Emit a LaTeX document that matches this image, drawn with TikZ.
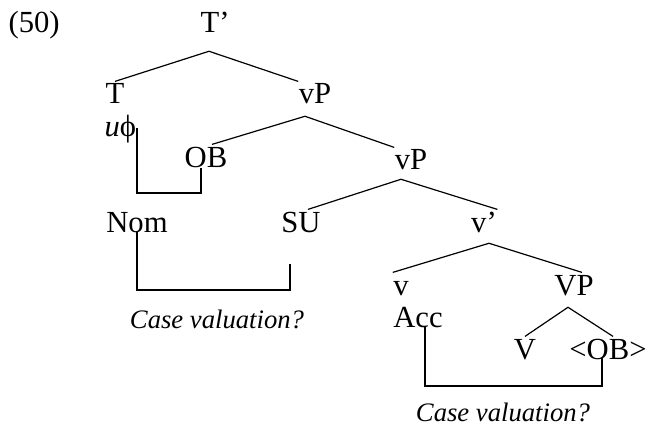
\documentclass[tikz,border=0pt]{standalone}
\usepackage{fontspec}
\setmainfont{Liberation Serif}
\usepackage{tikz}

\begin{document}
\begin{tikzpicture}[x=0.75pt,y=-0.75pt,line width=0.9pt,
		lbl/.style={anchor=base,inner sep=0pt,font=\fontsize{23}{26}\selectfont,text height=16.5pt,text depth=8pt},
		cv/.style={anchor=base,inner sep=0pt,font=\fontsize{20}{24}\selectfont\itshape}]
		\useasboundingbox (0,0) rectangle (647,428);
		\node[lbl,anchor=base west] (ex) at (8,33) {(50)};
		\node[lbl] (Tbar) at (215,33) {T’};
		\node[lbl] (T) at (115,104) {T};
		\node[lbl] (vP1) at (315,104) {vP};
		\node[lbl,anchor=base west] (uphi) at (104,137) {\textit{u}ϕ};
		\node[lbl] (OB) at (206,167) {OB};
		\node[lbl] (vP2) at (411,170) {vP};
		\node[lbl] (Nom) at (137,232) {Nom};
		\node[lbl] (SU) at (301,232) {SU};
		\node[lbl] (vbar) at (484,232) {v’};
		\node[lbl] (v) at (401,295) {v};
		\node[lbl] (VP) at (574,295) {VP};
		\node[lbl] (Acc) at (418,327) {Acc};
		\node[lbl] (V) at (525,359) {V};
		\node[lbl] (OBt) at (608,359) {<OB>};
		\node[cv] (cvA) at (217,328) {Case valuation?};
		\node[cv] (cvB) at (503,421) {Case valuation?};
		
		\draw (T.north) -- ([shift={(-6,7)}]Tbar.south) -- (vP1.north west);
		\draw ([shift={(6,0)}]OB.north) -- ([shift={(-10,1)}]vP1.south) -- (vP2.north west);
		\draw ([shift={(7,0)}]SU.north) -- ([shift={(-10,-2)}]vP2.south) -- (vbar.north east);
		\draw (v.north west) -- ([shift={(5,0)}]vbar.south) -- ([shift={(8,0)}]VP.north);
		\draw (V.north) -- ([shift={(-6,1)}]VP.south) -- ([shift={(5,0)}]OBt.north);
		
		\draw ([shift={(33,-9)}]uphi.base west) -- ++(0,65) -| ([shift={(-5,1)}]OB.base);
		\draw (Nom.base) -- ++(0,58) -| ([shift={(-11,32)}]SU.base);
		\draw ([shift={(7,0)}]Acc.base) -- ++(0,59) -| ([shift={(-6,-1)}]OBt.base);
	\end{tikzpicture}
\end{document}
